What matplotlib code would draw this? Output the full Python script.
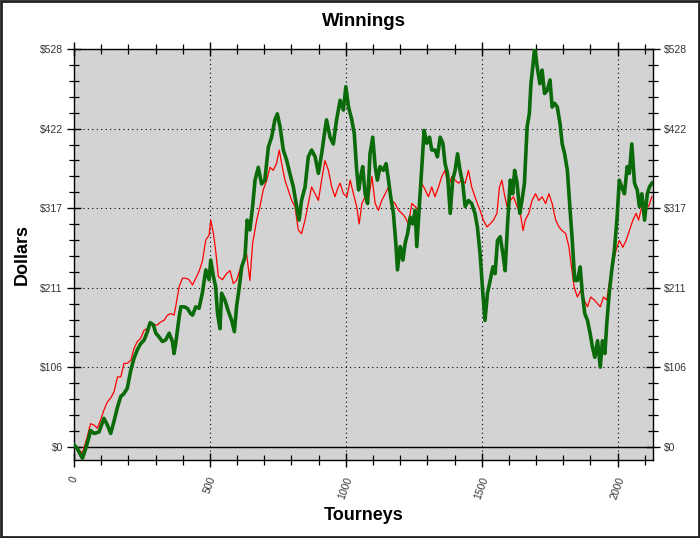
import matplotlib
matplotlib.use("Agg")
import matplotlib.pyplot as plt
from matplotlib.ticker import FixedLocator, MultipleLocator
from matplotlib.patches import Rectangle

# ---- data ----
green_t = [0, 12, 31, 43, 55, 61, 74, 92, 110, 123,
           135, 147, 160, 172, 184, 196, 209, 221, 233, 245,
           258, 270, 280, 292, 301, 313, 325, 337, 350, 362,
           368, 374, 387, 393, 405, 417, 429, 436, 448, 460,
           472, 485, 497, 503, 513, 521, 528, 537,
           543, 555, 567, 580, 590, 598, 608, 617, 629, 637,
           647, 657, 666, 678, 690, 702, 715, 727, 739, 748,
           758, 770, 782, 794, 807, 819, 828, 837, 850, 862,
           874, 887, 899, 911, 923, 929, 942, 954, 966, 979,
           991, 1000,
           1010, 1022, 1031, 1040, 1047, 1055, 1062, 1071, 1080, 1089,
           1099, 1108, 1116, 1126, 1138, 1148, 1157, 1165, 1175, 1184,
           1190, 1200, 1210, 1218, 1227, 1237, 1246, 1255, 1261, 1271,
           1279, 1288, 1298, 1308, 1316, 1328, 1337, 1347, 1357, 1365,
           1374, 1384, 1393, 1402, 1411, 1420, 1430, 1439, 1451, 1463,
           1475, 1484,
           1494, 1504, 1512, 1521, 1531, 1541, 1549, 1558, 1568, 1578,
           1586, 1595, 1605, 1614, 1621, 1630, 1640, 1648, 1657, 1667,
           1675, 1681, 1689, 1695, 1704, 1714, 1722, 1731, 1741, 1751,
           1759, 1768, 1778, 1788, 1796, 1805, 1815, 1825, 1833, 1842,
           1852, 1862, 1870, 1879, 1889, 1899, 1907, 1916, 1926, 1936,
           1944, 1953, 1960, 1969, 1978, 1988, 1998, 2006, 2015, 2025,
           2035, 2043, 2052, 2062, 2072, 2080, 2089, 2099, 2109, 2117,
           2126]
green_v = [3, -2, -15, -2, 13, 22, 18, 20, 38, 29,
           18, 34, 53, 67, 71, 78, 102, 118, 129, 137,
           142, 153, 165, 162, 151, 146, 140, 142, 151, 140,
           124, 137, 173, 186, 186, 184, 177, 175, 186, 184,
           204, 235, 222, 248, 226, 213, 177, 157,
           204, 195, 181, 168, 153, 186, 212, 239, 252, 301,
           288, 319, 354, 371, 349, 354, 398, 411, 434, 442,
           425, 394, 381, 363, 345, 319, 301, 327, 345, 385,
           394, 385, 363, 389, 420, 434, 411, 402, 434, 460,
           447, 478,
           451, 434, 416, 367, 341, 359, 372, 336, 323, 389,
           411, 372, 354, 372, 367, 376, 354, 332, 310, 270,
           235, 266, 248, 270, 283, 305, 296, 314, 266, 323,
           367, 420, 403, 411, 394, 394, 385, 411, 403, 376,
           363, 310, 354, 367, 389, 367, 350, 319, 327, 323,
           310, 292,
           256, 204, 168, 204, 221, 239, 230, 274, 279, 256,
           234, 296, 354, 336, 367, 350, 310, 327, 350, 425,
           442, 482, 509, 531, 504, 482, 500, 469, 473, 487,
           451, 456, 451, 429, 402, 389, 367, 314, 274, 221,
           221, 239, 204, 177, 168, 150, 133, 119, 141, 106,
           141, 124, 164, 204, 234, 261, 305, 354, 345, 336,
           372, 363, 402, 350, 341, 319, 336, 301, 336, 345,
           350]

red_t = [0, 31, 49, 61, 74, 86, 98, 110, 123, 135,
         147, 160, 172, 184, 196, 209, 221, 233, 245, 258,
         270, 282, 294, 307, 319, 331, 344, 356, 368, 374,
         387, 399, 411, 423, 436, 448, 460, 472, 485, 497,
         503, 513, 521, 531, 546,
         561, 574, 586, 598, 617, 635, 647, 657, 672, 684,
         696, 709, 721, 733, 745, 755, 764, 776, 788, 801,
         813, 825, 837, 850, 862, 874, 887, 899, 911, 923,
         936, 948, 960, 972,
         979, 991, 1004, 1016, 1028, 1040, 1049, 1059, 1071, 1083,
         1096, 1108, 1120, 1132, 1145, 1157, 1169, 1181, 1194, 1206,
         1218, 1230, 1243, 1255, 1267, 1279, 1292, 1304, 1316, 1328,
         1341, 1353, 1365, 1377, 1390, 1402, 1414, 1426, 1439, 1451,
         1463, 1475, 1488,
         1494, 1506, 1519, 1531, 1543, 1556, 1565, 1574, 1583, 1593,
         1605, 1617, 1630, 1642, 1652, 1660, 1673, 1685, 1698, 1710,
         1722, 1735, 1747, 1759, 1772, 1784, 1796, 1809, 1821, 1830,
         1840, 1852, 1864, 1877, 1889, 1901, 1914, 1926, 1936, 1948,
         1960, 1969, 1981, 1994, 2006, 2019, 2031, 2043, 2056, 2068,
         2077, 2089, 2101, 2114, 2126]
red_v = [3, -8, 14, 31, 29, 25, 36, 49, 60, 65,
         73, 93, 93, 111, 111, 115, 131, 140, 144, 155,
         157, 164, 162, 162, 166, 168, 175, 177, 175, 186,
         213, 224, 224, 222, 215, 224, 233, 246, 275, 281,
         301, 283, 261, 226, 222,
         230, 234, 217, 221, 243, 256, 221, 270, 301, 319,
         341, 354, 371, 367, 376, 394, 376, 354, 341, 327,
         319, 288, 283, 301, 323, 345, 336, 327, 354, 380,
         367, 345, 332, 345,
         350, 336, 332, 354, 336, 319, 296, 323, 332, 327,
         359, 323, 314, 327, 336, 345, 327, 323, 314, 310,
         305, 296, 323, 319, 314, 350, 341, 332, 345, 332,
         345, 359, 367, 345, 359, 354, 350, 354, 350, 367,
         345, 332, 319,
         314, 301, 292, 296, 301, 310, 345, 354, 336, 319,
         327, 332, 319, 310, 287, 301, 310, 327, 336, 327,
         332, 323, 336, 323, 301, 292, 287, 283, 265, 239,
         212, 199, 208, 195, 186, 199, 195, 190, 186, 199,
         195, 217, 239, 261, 274, 265, 274, 287, 301, 310,
         301, 319, 323, 319, 332]

y_ticks = [0, 105.6, 211.2, 316.8, 422.4, 528]
y_labels = ["$0", "$106", "$211", "$317", "$422", "$528"]
x_ticks = [0, 500, 1000, 1500, 2000]
x_labels = ["0", "500", "1000", "1500", "2000"]

# ---- figure ----
plt.rcParams['font.family'] = ['Liberation Sans', 'DejaVu Sans']
fig = plt.figure(figsize=(7.0, 5.38), dpi=100)
fig.patch.set_facecolor('white')
ax = fig.add_axes([74/700, 1-460/538, (653-74)/700, (460-49)/538])
ax.set_facecolor('#d3d3d3')

ax.set_xlim(0, 2130)
ax.set_ylim(-17.2, 528)

ax.grid(True, which='major', color='black', linestyle=(0, (1, 3)), linewidth=0.8)
ax.set_axisbelow(True)
ax.axhline(0, color='black', linewidth=1.0, zorder=2)

ax.plot(red_t, red_v, color='#ff0000', linewidth=0.9, zorder=3)
ax.plot(green_t, green_v, color='#0b6b0b', linewidth=2.6, zorder=4)

ax.yaxis.set_major_locator(FixedLocator(y_ticks))
ax.set_yticklabels(y_labels)
ax.yaxis.set_minor_locator(MultipleLocator(21.12))
ax.xaxis.set_major_locator(FixedLocator(x_ticks))
ax.set_xticklabels(x_labels, rotation=70, ha='center', va='top')
ax.xaxis.set_minor_locator(MultipleLocator(100))

ax.tick_params(axis='both', which='both', direction='inout', top=True, right=True,
               labelright=True, labelsize=7.5, labelcolor='#333333', colors='black')
ax.tick_params(axis='y', which='major', length=10, width=1.0, pad=3)
ax.tick_params(axis='y', which='minor', length=7, width=0.9)
ax.tick_params(axis='x', which='major', length=10, width=1.0, pad=6)
ax.tick_params(axis='x', which='minor', length=7, width=0.9)
for lab in ax.get_yticklabels():
    lab.set_color('#333333')

for s in ax.spines.values():
    s.set_color('black')
    s.set_linewidth(1.0)

fig.text(364/700, 1-22/538, "Winnings", ha='center', va='center',
         fontsize=13.5, fontweight='bold')
fig.text(364/700, 1-515/538, "Tourneys", ha='center', va='center',
         fontsize=13, fontweight='bold')
fig.text(22/700, 1-254/538, "Dollars", ha='center', va='center',
         fontsize=13, fontweight='bold', rotation=90)

fig.add_artist(Rectangle((0.001, 0.001), 0.997, 0.997, transform=fig.transFigure,
                         fill=False, edgecolor='#222222', linewidth=2.0))

fig.savefig("out.png", dpi=100, facecolor='white')
